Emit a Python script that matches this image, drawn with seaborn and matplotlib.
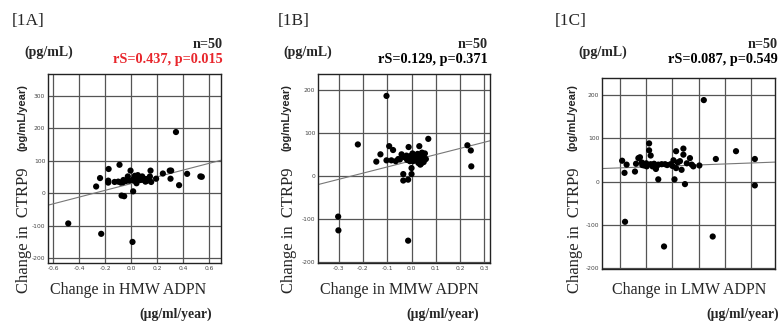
import numpy as np
import pandas as pd
import seaborn as sns
import matplotlib.pyplot as plt

# data (change in ADPN fraction vs change in CTRP9)
hmw_x = [-0.485, -0.231, 0.010, -0.074, -0.054, 0.015, -0.270, -0.240, -0.174, -0.177,
         -0.177, -0.090, -0.128, -0.080, -0.064, -0.060, -0.026, -0.005, -0.015, 0.010,
         0.028, 0.041, 0.051, 0.062, 0.072, 0.085, 0.097, 0.110, 0.123, 0.144,
         0.149, 0.154, 0.192, 0.244, 0.297, 0.308, 0.303, 0.369, 0.431, 0.533,
         0.544, 0.345, 0.020, 0.065, 0.115, -0.040, 0.030, 0.090, -0.100, 0.130]
hmw_y = [-93, -125, -150, -7, -9, 6, 21, 47, 75, 39,
         33, 88, 35, 33, 34, 41, 52, 70, 39, 41,
         54, 31, 56, 48, 41, 52, 41, 36, 39, 52,
         70, 35, 45, 61, 70, 70, 45, 25, 60, 52,
         51, 189, 45, 42, 44, 38, 38, 47, 36, 42]

mmw_x = [-0.221, -0.302, -0.301, -0.145, -0.128, -0.103, -0.092, -0.076, -0.083, -0.065,
         -0.048, -0.041, -0.034, -0.034, -0.021, -0.014, -0.012, -0.012, -0.007, 0.000,
         0.000, 0.004, 0.010, 0.018, 0.028, 0.032, 0.032, 0.039, 0.046, 0.048,
         0.055, 0.059, 0.069, 0.230, 0.244, 0.246, -0.103, -0.014, -0.055, -0.028,
         -0.005, 0.015, 0.025, 0.040, 0.050, 0.036, 0.020, -0.018, 0.006, 0.043]
mmw_y = [74, -94, -126, 34, 51, 37, 70, 61, 37, 35,
         39, 51, 5, -10, 48, -8, 68, 43, 35, 19,
         5, 53, 40, 37, 31, 70, 43, 29, 35, 47,
         53, 40, 87, 72, 60, 23, 187, -150, 40, 44,
         47, 46, 52, 41, 33, 27, 42, 38, 35, 55]

lmw_x = [-0.192, -0.183, -0.175, -0.181, -0.143, -0.139, -0.130, -0.124, -0.117, -0.108,
         -0.098, -0.089, -0.089, -0.083, -0.083, -0.076, -0.070, -0.063, -0.054, -0.054,
         -0.041, -0.028, -0.007, 0.004, 0.008, 0.014, 0.014, 0.029, 0.035, 0.042,
         0.042, 0.048, 0.067, 0.074, 0.080, 0.103, 0.166, 0.243, 0.315, 0.315,
         0.154, 0.120, -0.032, -0.100, -0.060, -0.020, 0.000, 0.020, 0.055, -0.115]
lmw_y = [48, 20, 39, -93, 23, 41, 54, 56, 44, 37,
         35, 88, 72, 60, 40, 35, 41, 29, 5, 39,
         40, 40, 40, 49, 5, 70, 31, 47, 27, 76,
         62, -6, 54, 39, 35, 37, 52, 70, 52, -9,
         -127, 188, -150, 42, 36, 38, 36, 44, 42, 38]

# fitted lines (intercept, slope) as drawn in the figure
fits = {"A": (30, 104), "B": (36, 144), "C": (36, 22.5)}
stats = {"A": "rS=0.437, p=0.015", "B": "rS=0.129, p=0.371", "C": "rS=0.087, p=0.549"}
xlabels = {"A": "Change in HMW ADPN", "B": "Change in MMW ADPN", "C": "Change in LMW ADPN"}

sns.set_style("white")
plt.rcParams['font.family'] = ['Liberation Serif', 'DejaVu Serif']

W, H = 780, 321
fig = plt.figure(figsize=(W / 100, H / 100), dpi=100)

def box(x0, y0, x1, y1):
    return [x0 / W, 1 - y1 / H, (x1 - x0) / W, (y1 - y0) / H]

def txt(x, y, s, **kw):
    fig.text(x / W, 1 - y / H, s, **kw)

panels = [
    ("A", hmw_x, hmw_y, box(48, 74, 221, 263), (-0.641, 0.692), (-215, 368),
     [-0.6, -0.4, -0.2, 0.0, 0.2, 0.4, 0.6], [-200, -100, 0, 100, 200, 300], True),
    ("B", mmw_x, mmw_y, box(318, 74, 490, 263), (-0.385, 0.323), (-202, 238),
     [-0.3, -0.2, -0.1, 0.0, 0.1, 0.2, 0.3], [-200, -100, 0, 100, 200], True),
    ("C", lmw_x, lmw_y, box(602, 78, 775, 269), (-0.269, 0.392), (-202, 239),
     [-0.2, -0.1, 0.0, 0.1, 0.2, 0.3], [-200, -100, 0, 100, 200], False),
]

for key, xs, ys, rect, xl, yl, xt, yt, showx in panels:
    ax = fig.add_axes(rect)
    df = pd.DataFrame({"x": xs, "y": ys})
    sns.scatterplot(data=df, x="x", y="y", ax=ax, color="black", s=20,
                    edgecolor="none", zorder=3)
    b, m = fits[key]
    ax.axline((0, b), slope=m, color="#777777", lw=0.8, zorder=2)
    ax.set_xlim(*xl)
    ax.set_ylim(*yl)
    ax.set_xticks(xt)
    ax.set_yticks(yt)
    if showx:
        ax.set_xticklabels([f"{v:.1f}" for v in xt])
    else:
        ax.set_xticklabels([])
    ax.set_yticklabels([str(v) for v in yt])
    ax.tick_params(labelsize=4.3, labelcolor="#444444", length=0, pad=2)
    for lab in ax.get_xticklabels() + ax.get_yticklabels():
        lab.set_family("DejaVu Sans")
    ax.grid(True, color="#555555", lw=0.9)
    for sp in ax.spines.values():
        sp.set_color("#222222")
        sp.set_linewidth(1.0)
    ax.set_xlabel("")
    ax.set_ylabel("")

# panel annotations
tag_x = {"A": 12, "B": 278, "C": 555}
unit_x = {"A": 24, "B": 283, "C": 578}
right_x = {"A": 223, "B": 488, "C": 778}
ylab_x = {"A": 22, "B": 287, "C": 573}
xlab_c = {"A": 128, "B": 399, "C": 689}
ug_c = {"A": 176, "B": 443, "C": 743}

for key in ["A", "B", "C"]:
    txt(tag_x[key], 21, f"[1{key}]", fontsize=12.5, va="center", ha="left")
    txt(unit_x[key], 52, "(pg/mL)", fontsize=10, fontweight="bold", va="center", ha="left")
    txt(right_x[key], 44, "n=50", fontsize=10.3, fontweight="bold", va="center", ha="right")
    txt(right_x[key], 59, stats[key], fontsize=10.3, fontweight="bold", va="center",
        ha="right", color="#e8262c" if key == "A" else "black")
    txt(ylab_x[key], 118, "(pg/mL/year)", fontsize=8, fontweight="bold", rotation=90,
        va="center", ha="center", family="Liberation Sans")
    txt(ylab_x[key] + 2, 230, "Change in  CTRP9", fontsize=12, rotation=90,
        va="center", ha="center")
    txt(xlab_c[key], 290, xlabels[key], fontsize=11.5, va="center", ha="center")
    txt(ug_c[key], 314, "(µg/ml/year)", fontsize=9.8, fontweight="bold", va="center", ha="center")

fig.savefig("out.png", dpi=100)
plt.close()
